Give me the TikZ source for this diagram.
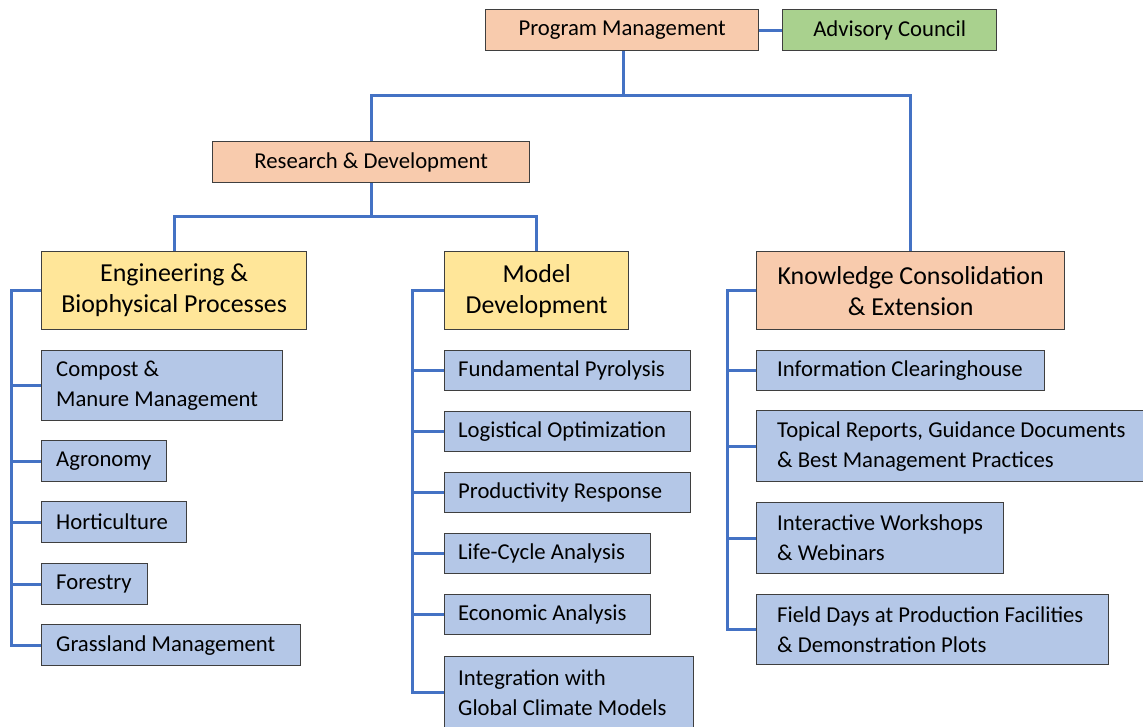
\documentclass[tikz,border=0pt]{standalone}
\usepackage{fontspec}
\setmainfont{Carlito}
\definecolor{salmon}{HTML}{F8CBAD}
\definecolor{leaf}{HTML}{A9D18E}
\definecolor{sun}{HTML}{FFE699}
\definecolor{sky}{HTML}{B4C7E7}
\definecolor{wire}{HTML}{4472C4}
\definecolor{edge}{HTML}{3F3F3F}
\tikzset{
  boxbase/.style={draw=edge, line width=1.3pt, rectangle, anchor=north west, inner sep=0pt},
  hdr/.style={boxbase, font=\fontsize{22.7}{30}\selectfont, align=center},
  bighdr/.style={boxbase, font=\fontsize{25.9}{31}\selectfont, align=center},
  leafbox/.style={boxbase, fill=sky},
  leaftext/.style={anchor=west, inner sep=0pt, align=left, font=\fontsize{22.7}{30}\selectfont},
  conn/.style={draw=wire, line width=3pt}
}
% \lbox{name}{x}{y}{w}{h}{xsep}{text}
\newcommand\lbox[7]{%
  \node[leafbox, minimum width=#4pt, minimum height=#5pt] (#1) at (#2,#3) {};
  \node[leaftext] (#1t) at ([xshift=#6pt]#1.west) {#7};
}
\begin{document}
\begin{tikzpicture}[x=1pt,y=-1pt]
\useasboundingbox (0,0) rectangle (1143,726);

% top level
\node[hdr, fill=salmon, minimum width=273pt, minimum height=41pt] (pm) at (485,9) {Program Management};
\node[hdr, fill=leaf, minimum width=214pt, minimum height=41pt] (ac) at (782,9) {Advisory Council};
\node[hdr, fill=salmon, minimum width=317pt, minimum height=41pt] (rd) at (212,141) {Research \& Development};

% second level
\node[bighdr, fill=sun, minimum width=265pt, minimum height=78pt] (ebp) at (41,251) {Engineering \&\\Biophysical Processes};
\node[bighdr, fill=sun, minimum width=184pt, minimum height=78pt] (md) at (444,251) {Model\\Development};
\node[bighdr, fill=salmon, minimum width=308pt, minimum height=78pt] (kce) at (756,251) {Knowledge Consolidation\\\& Extension};

% column 1
\lbox{compost}{41}{350}{241}{70}{15}{Compost \&\\Manure Management}
\lbox{agro}{41}{440}{125}{41}{15}{Agronomy}
\lbox{horti}{41}{501}{145}{41}{15}{Horticulture}
\lbox{forest}{41}{563}{106}{41}{15}{Forestry}
\lbox{grass}{41}{624}{259}{41}{15}{Grassland Management}

% column 2
\lbox{fp}{444}{350}{246}{40}{14}{Fundamental Pyrolysis}
\lbox{lo}{444}{411}{246}{40}{14}{Logistical Optimization}
\lbox{pr}{444}{472}{246}{40}{14}{Productivity Response}
\lbox{lca}{444}{533}{206}{40}{14}{Life-Cycle Analysis}
\lbox{ea}{444}{594}{206}{40}{14}{Economic Analysis}
\lbox{igcm}{444}{656}{249}{72}{14}{Integration with\\Global Climate Models}

% column 3
\lbox{ic}{756}{350}{288}{40}{21}{Information Clearinghouse}
\lbox{tr}{756}{410}{392}{71}{21}{Topical Reports, Guidance Documents\\\& Best Management Practices}
\lbox{iw}{756}{502}{247}{71}{21}{Interactive Workshops\\\& Webinars}
\lbox{fd}{756}{594}{352}{70}{21}{Field Days at Production Facilities\\\& Demonstration Plots}

% connectors
\coordinate (b1) at (623,95);
\coordinate (b2) at (371,216);
\coordinate (s1) at (11,287);
\coordinate (s2) at (412,287);
\coordinate (s3) at (727,287);

\draw[conn] (pm.east) -- (ac.west);
\draw[conn] (pm.south -| b1) -- (b1);
\draw[conn] (rd.north) |- (b1) -| (kce.north);
\draw[conn] (rd.south) -- (rd.south |- b2);
\draw[conn] (ebp.north) |- (b2) -| (md.north);

\draw[conn] (ebp.west) -- (ebp.west -| s1) |- (grass.west);
\foreach \n in {compost,agro,horti,forest} \draw[conn] (\n.west) -- (\n.west -| s1);
\draw[conn] (md.west) -- (md.west -| s2) |- (igcm.west);
\foreach \n in {fp,lo,pr,lca,ea} \draw[conn] (\n.west) -- (\n.west -| s2);
\draw[conn] (kce.west) -- (kce.west -| s3) |- (fd.west);
\foreach \n in {ic,tr,iw} \draw[conn] (\n.west) -- (\n.west -| s3);
\end{tikzpicture}
\end{document}
